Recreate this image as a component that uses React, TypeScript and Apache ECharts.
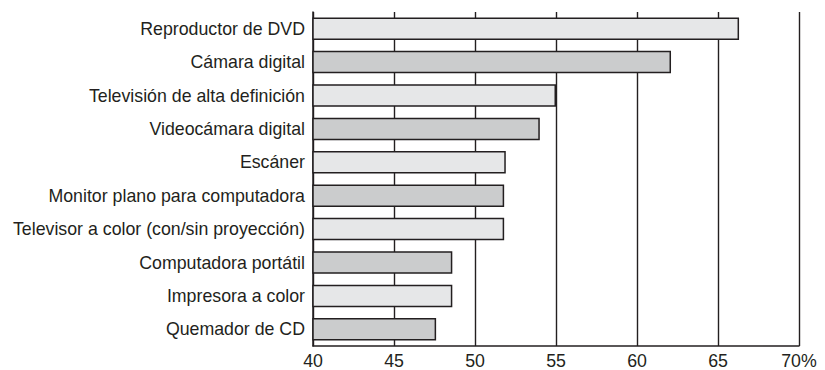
import React, { useEffect, useRef } from "react";
import * as echarts from "echarts";

const categories = [
  "Reproductor de DVD",
  "Cámara digital",
  "Televisión de alta definición",
  "Videocámara digital",
  "Escáner",
  "Monitor plano para computadora",
  "Televisor a color (con/sin proyección)",
  "Computadora portátil",
  "Impresora a color",
  "Quemador de CD",
];
const values = [66.3, 62.1, 55.0, 54.0, 51.9, 51.8, 51.8, 48.6, 48.6, 47.6];
const axisMin = 40;
const axisMax = 70;
const axisStep = 5;

const LIGHT = "#e6e7e8";
const DARK = "#cbcccd";
const INK = "#231f20";
const FONT = "'Liberation Sans', Arial, sans-serif";

export default function App() {
  const ref = useRef<HTMLDivElement>(null);
  useEffect(() => {
    document.body.style.margin = "0";
    const chart = echarts.init(ref.current!, null, { renderer: "svg" });
    chart.setOption({
      animation: false,
      backgroundColor: "#ffffff",
      grid: { left: 313, right: 26, top: 12, bottom: 23, containLabel: false },
      xAxis: {
        type: "value",
        min: axisMin,
        max: axisMax,
        interval: axisStep,
        axisLine: { show: true, lineStyle: { color: INK, width: 1.5 } },
        axisTick: { show: false },
        splitLine: { show: true, lineStyle: { color: INK, width: 1.4 } },
        axisLabel: {
          color: INK,
          fontSize: 17.75,
          fontFamily: FONT,
          margin: 6,
          formatter: (v: number) => (v === axisMax ? `${v}%` : `${v}`),
        },
      },
      yAxis: {
        type: "category",
        data: categories,
        inverse: true,
        axisLine: { show: true, lineStyle: { color: INK, width: 1.5 } },
        axisTick: { show: false },
        axisLabel: {
          color: INK,
          fontSize: 17.75,
          fontFamily: FONT,
          margin: 8,
        },
        splitLine: { show: false },
      },
      series: [
        {
          type: "bar",
          data: values,
          barWidth: 22.5,
          itemStyle: {
            color: (p: any) => (p.dataIndex % 2 === 0 ? LIGHT : DARK),
            borderColor: INK,
            borderWidth: 1.5,
          },
        },
      ],
    });
    return () => chart.dispose();
  }, []);
  return (
    <div
      ref={ref}
      style={{ position: "fixed", left: 0, top: 0, width: 825, height: 370 }}
    />
  );
}
